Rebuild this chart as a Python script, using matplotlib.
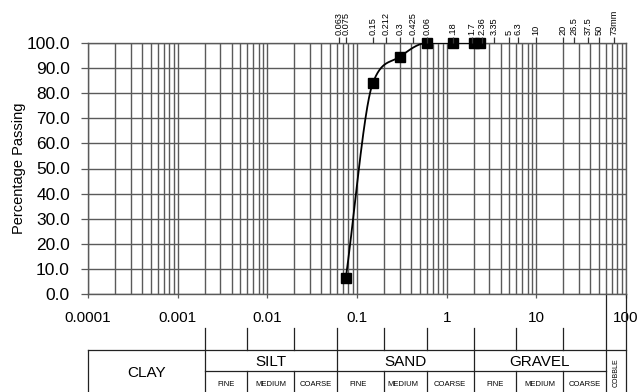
import numpy as np
import matplotlib
matplotlib.use("Agg")
import matplotlib.pyplot as plt
import matplotlib.transforms as mtransforms

plt.rcParams['font.family'] = ['Liberation Sans', 'DejaVu Sans']

# ---- data ----
sieve_sizes = [0.075, 0.15, 0.3, 0.6, 1.18, 2.0, 2.36]
percent_passing = [6.3, 84.0, 94.5, 100.0, 100.0, 100.0, 100.0]

top_tick_values = [0.063, 0.075, 0.15, 0.212, 0.3, 0.425, 0.6, 1.18, 1.9, 2.45,
                   3.35, 5, 6.3, 10, 20, 26.5, 37.5, 50, 73]
top_tick_labels = ['0.063', '0.075', '0.15', '0.212', '0.3', '0.425', '0.06', '.18',
                   '1.7', '2.36', '3.35', '5', '6.3', '10', '20', '26.5', '37.5', '50', '73mm']

bottom_tick_values = [0.0001, 0.001, 0.01, 0.1, 1, 10, 100]
bottom_tick_labels = ['0.0001', '0.001', '0.01', '0.1', '1', '10', '100']

y_ticks = [0, 10, 20, 30, 40, 50, 60, 70, 80, 90, 100]

main_bounds = [0.002, 0.06, 2, 60]          # clay|silt|sand|gravel|cobble
sub_bounds = [0.006, 0.02, 0.2, 0.6, 6, 20]  # fine|medium|coarse
main_classes = ['SILT', 'SAND', 'GRAVEL']
main_class_edges = [(0.002, 0.06), (0.06, 2), (2, 60)]
sub_classes = ['FINE', 'MEDIUM', 'COARSE']


def monotone_smooth(x, y, xn):
    """Smooth monotone Hermite curve through the points (log-x space)."""
    x = np.asarray(x, float); y = np.asarray(y, float)
    h = np.diff(x); d = np.diff(y) / h
    n = len(x)
    m = np.zeros(n)
    m[0], m[-1] = d[0], d[-1]
    for k in range(1, n - 1):
        if d[k - 1] * d[k] <= 0:
            m[k] = 0.0
        else:
            m[k] = np.sqrt(d[k - 1] * d[k])
    for k in range(n - 1):
        if d[k] == 0:
            m[k] = m[k + 1] = 0.0
            continue
        a, b = m[k] / d[k], m[k + 1] / d[k]
        r = a * a + b * b
        if r > 9:
            t = 3 / np.sqrt(r)
            m[k], m[k + 1] = t * a * d[k], t * b * d[k]
    out = np.empty_like(xn)
    for i, xv in enumerate(xn):
        k = min(max(np.searchsorted(x, xv) - 1, 0), n - 2)
        t = (xv - x[k]) / h[k]
        h00 = 2 * t**3 - 3 * t**2 + 1; h10 = t**3 - 2 * t**2 + t
        h01 = -2 * t**3 + 3 * t**2; h11 = t**3 - t**2
        out[i] = h00 * y[k] + h10 * h[k] * m[k] + h01 * y[k + 1] + h11 * h[k] * m[k + 1]
    return out


W, H = 639, 392
fig = plt.figure(figsize=(W / 100, H / 100), dpi=100)
L, R, T, B = 88, 626, 43, 294
ax = fig.add_axes([L / W, 1 - B / H, (R - L) / W, (B - T) / H])

gcol = '#5a5a5a'
ax.set_xscale('log')
ax.set_xlim(0.0001, 100)
ax.set_ylim(0, 100)

ax.set_yticks(y_ticks)
ax.set_yticklabels([f'{v:.1f}' for v in y_ticks], fontsize=12.5)
ax.set_xticks(bottom_tick_values)
ax.set_xticklabels(bottom_tick_labels, fontsize=11)
ax.xaxis.set_minor_locator(matplotlib.ticker.LogLocator(base=10, subs=np.arange(2, 10)))
ax.xaxis.set_minor_formatter(matplotlib.ticker.NullFormatter())
ax.grid(True, which='both', axis='x', color=gcol, lw=1.0)
ax.grid(True, which='major', axis='y', color=gcol, lw=1.0)
ax.set_axisbelow(True)
ax.tick_params(axis='y', direction='out', length=5, width=0.9, color=gcol, pad=8)
ax.tick_params(axis='x', which='major', direction='out', length=3, width=0.9, color=gcol, pad=9)
ax.tick_params(axis='x', which='minor', length=0)
for s in ax.spines.values():
    s.set_color(gcol)
    s.set_linewidth(1.0)

ax.set_ylabel('Percentage Passing', fontsize=10.5, labelpad=0)

# curve
lx = np.log10(sieve_sizes)
xs = np.linspace(lx[0], lx[-1], 400)
ys = monotone_smooth(lx, percent_passing, xs)
ax.plot(10**xs, ys, color='black', lw=1.3, zorder=3)
ax.plot(sieve_sizes, percent_passing, 's', color='black', ms=7, zorder=4, clip_on=False)

# top axis with sieve sizes
ax2 = ax.twiny()
ax2.set_xscale('log')
ax2.set_xlim(ax.get_xlim())
ax2.set_xticks(top_tick_values)
ax2.set_xticklabels(top_tick_labels, rotation=90, fontsize=6.6)
ax2.xaxis.set_minor_locator(matplotlib.ticker.NullLocator())
ax2.tick_params(axis='x', direction='out', length=4, width=0.9, color='#333333', pad=1.5)
for s in ax2.spines.values():
    s.set_visible(False)
for lab in ax2.get_xticklabels():
    lab.set_verticalalignment('bottom')

# classification table
tr = mtransforms.blended_transform_factory(ax.transData, fig.transFigure)
def fy(py):
    return 1 - py / H

lc = '#222222'
lw = 0.9
y_tick_top, y_tab_top, y_row, y_bot = 328, 350, 371, 395
ax.plot([0.0001, 100], [fy(y_tab_top)] * 2, transform=tr, color=lc, lw=lw, clip_on=False)
ax.plot([0.002, 60], [fy(y_row)] * 2, transform=tr, color=lc, lw=lw, clip_on=False)
ax.plot([0.0001, 0.0001], [fy(y_tab_top), fy(y_bot)], transform=tr, color=lc, lw=lw, clip_on=False)
ax.plot([100, 100], [fy(B), fy(y_bot)], transform=tr, color=lc, lw=lw, clip_on=False)
ax.plot([60, 60], [fy(B), fy(y_bot)], transform=tr, color=lc, lw=lw, clip_on=False)
for b in main_bounds[:-1]:
    ax.plot([b, b], [fy(y_tick_top), fy(y_bot)], transform=tr, color=lc, lw=lw, clip_on=False)
for b in sub_bounds:
    ax.plot([b, b], [fy(y_tick_top), fy(y_tab_top)], transform=tr, color=lc, lw=lw, clip_on=False)
    ax.plot([b, b], [fy(y_row), fy(y_bot)], transform=tr, color=lc, lw=lw, clip_on=False)

def gmid(a, b):
    return 10 ** ((np.log10(a) + np.log10(b)) / 2)

ax.text(gmid(0.0001, 0.002), fy(373), 'CLAY', transform=tr, ha='center', va='center', fontsize=11)
for name, (a, b) in zip(main_classes, main_class_edges):
    ax.text(gmid(a, b), fy(361.5), name, transform=tr, ha='center', va='center', fontsize=11)
    e = [a, a * 3, a * 10, b]
    for i, sname in enumerate(sub_classes):
        ax.text(gmid(e[i], e[i + 1]), fy(384), sname, transform=tr, ha='center', va='center', fontsize=5.5)
ax.text(gmid(60, 100), fy(373), 'COBBLE', transform=tr, ha='center', va='center', fontsize=5, rotation=90)

fig.savefig('out.png', dpi=100)
